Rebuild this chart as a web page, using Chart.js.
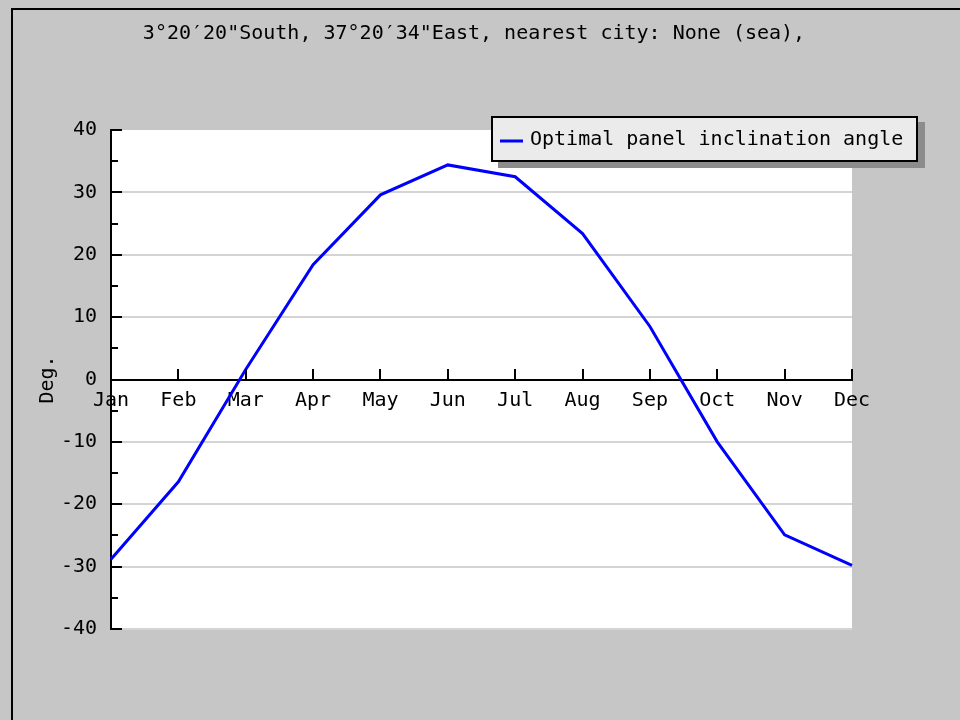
<!DOCTYPE html>
<html>
<head>
<meta charset="utf-8">
<script src="https://cdn.jsdelivr.net/npm/chart.js@4.4.0/dist/chart.umd.min.js"></script>
<style>
  html, body { margin: 0; padding: 0; background: #c6c6c6; }
  canvas { display: block; }
</style>
</head>
<body>
<canvas id="chart" width="960" height="720"></canvas>
<script>
const months = ["Jan", "Feb", "Mar", "Apr", "May", "Jun", "Jul", "Aug", "Sep", "Oct", "Nov", "Dec"];
const tiltAngles = [-28.8, -16.4, 1.6, 18.4, 29.6, 34.4, 32.5, 23.4, 8.5, -10.0, -24.9, -29.8];
const chartTitle = '3°20′20"South, 37°20′34"East, nearest city: None (sea),';
const seriesLabel = "Optimal panel inclination angle";
const yTitle = "Deg.";
const yMin = -40;
const yMax = 40;

const FAMILY = "'DejaVu Sans Mono', 'Liberation Mono', monospace";
const font = { family: FAMILY, size: 20, weight: "normal" };

// white plot area, black frame, title, inward tick marks and the boxed legend
const decorPlugin = {
  id: "decor",
  beforeDraw(chart) {
    const { ctx, chartArea: a } = chart;
    ctx.save();
    ctx.fillStyle = "#fff";
    ctx.fillRect(a.left, a.top, a.right - a.left, a.bottom - a.top);
    ctx.fillStyle = "#000";
    ctx.fillRect(11, 8, chart.width - 11, 2);
    ctx.fillRect(11, 8, 2, chart.height - 8);
    ctx.font = "20px " + FAMILY;
    ctx.textAlign = "center";
    ctx.textBaseline = "middle";
    ctx.fillText(chartTitle, 474, 34);
    ctx.restore();
  },
  afterDraw(chart) {
    const { ctx, chartArea: a, scales: { x, y } } = chart;
    ctx.save();
    ctx.strokeStyle = "#000";
    ctx.lineWidth = 2;
    ctx.beginPath();
    y.ticks.forEach(t => {
      const py = Math.round(y.getPixelForValue(t.value));
      const len = t.value % 10 === 0 ? 11 : 7;
      ctx.moveTo(a.left, py);
      ctx.lineTo(a.left + len, py);
    });
    const y0 = Math.round(y.getPixelForValue(0));
    months.forEach((m, i) => {
      const px = Math.round(x.getPixelForValue(i));
      ctx.moveTo(px, y0);
      ctx.lineTo(px, y0 - 11);
    });
    ctx.stroke();

    // legend
    const ds = chart.data.datasets[0];
    const bx = 491, by = 116, bw = 427, bh = 46;
    ctx.fillStyle = "#8c8c8c";
    ctx.fillRect(bx + 7, by + 6, bw, bh);
    ctx.fillStyle = "#ebebeb";
    ctx.fillRect(bx, by, bw, bh);
    ctx.strokeStyle = "#000";
    ctx.lineWidth = 2;
    ctx.strokeRect(bx + 1, by + 1, bw - 2, bh - 2);
    ctx.strokeStyle = ds.borderColor;
    ctx.lineWidth = 3;
    ctx.beginPath();
    ctx.moveTo(500, by + 25);
    ctx.lineTo(523, by + 25);
    ctx.stroke();
    ctx.fillStyle = "#000";
    ctx.font = "20px " + FAMILY;
    ctx.textBaseline = "middle";
    ctx.fillText(ds.label, 530, by + 24);
    ctx.restore();
  }
};

new Chart(document.getElementById("chart").getContext("2d"), {
  type: "line",
  data: {
    labels: months,
    datasets: [{
      label: seriesLabel,
      data: tiltAngles,
      borderColor: "#0000ff",
      borderWidth: 3,
      pointRadius: 0,
      tension: 0,
      fill: false
    }]
  },
  options: {
    responsive: false,
    animation: false,
    layout: { padding: { left: 0, right: 108, top: 130, bottom: 91 } },
    plugins: {
      legend: { display: false },
      tooltip: { enabled: false },
      title: { display: false }
    },
    scales: {
      x: {
        type: "category",
        position: { y: 0 },
        offset: false,
        grid: { drawOnChartArea: false, drawTicks: false },
        border: { display: true, color: "#000", width: 2 },
        ticks: { color: "#000", font: font, padding: 9, autoSkip: false, maxRotation: 0 }
      },
      y: {
        min: yMin,
        max: yMax,
        afterFit: s => { s.width = 111; },
        grid: {
          drawTicks: false,
          lineWidth: 2,
          color: c => (c.tick.value % 10 === 0 && c.tick.value !== 0 && c.tick.value !== yMax) ? "#d4d4d4" : "rgba(0,0,0,0)"
        },
        border: { display: true, color: "#000", width: 2 },
        ticks: {
          stepSize: 5,
          autoSkip: false,
          padding: 14,
          color: "#000",
          font: font,
          callback: v => v % 10 === 0 ? v : ""
        },
        title: {
          display: true,
          text: yTitle,
          color: "#000",
          font: font,
          padding: { top: 36, bottom: 0 }
        }
      }
    }
  },
  plugins: [decorPlugin]
});
</script>
</body>
</html>
